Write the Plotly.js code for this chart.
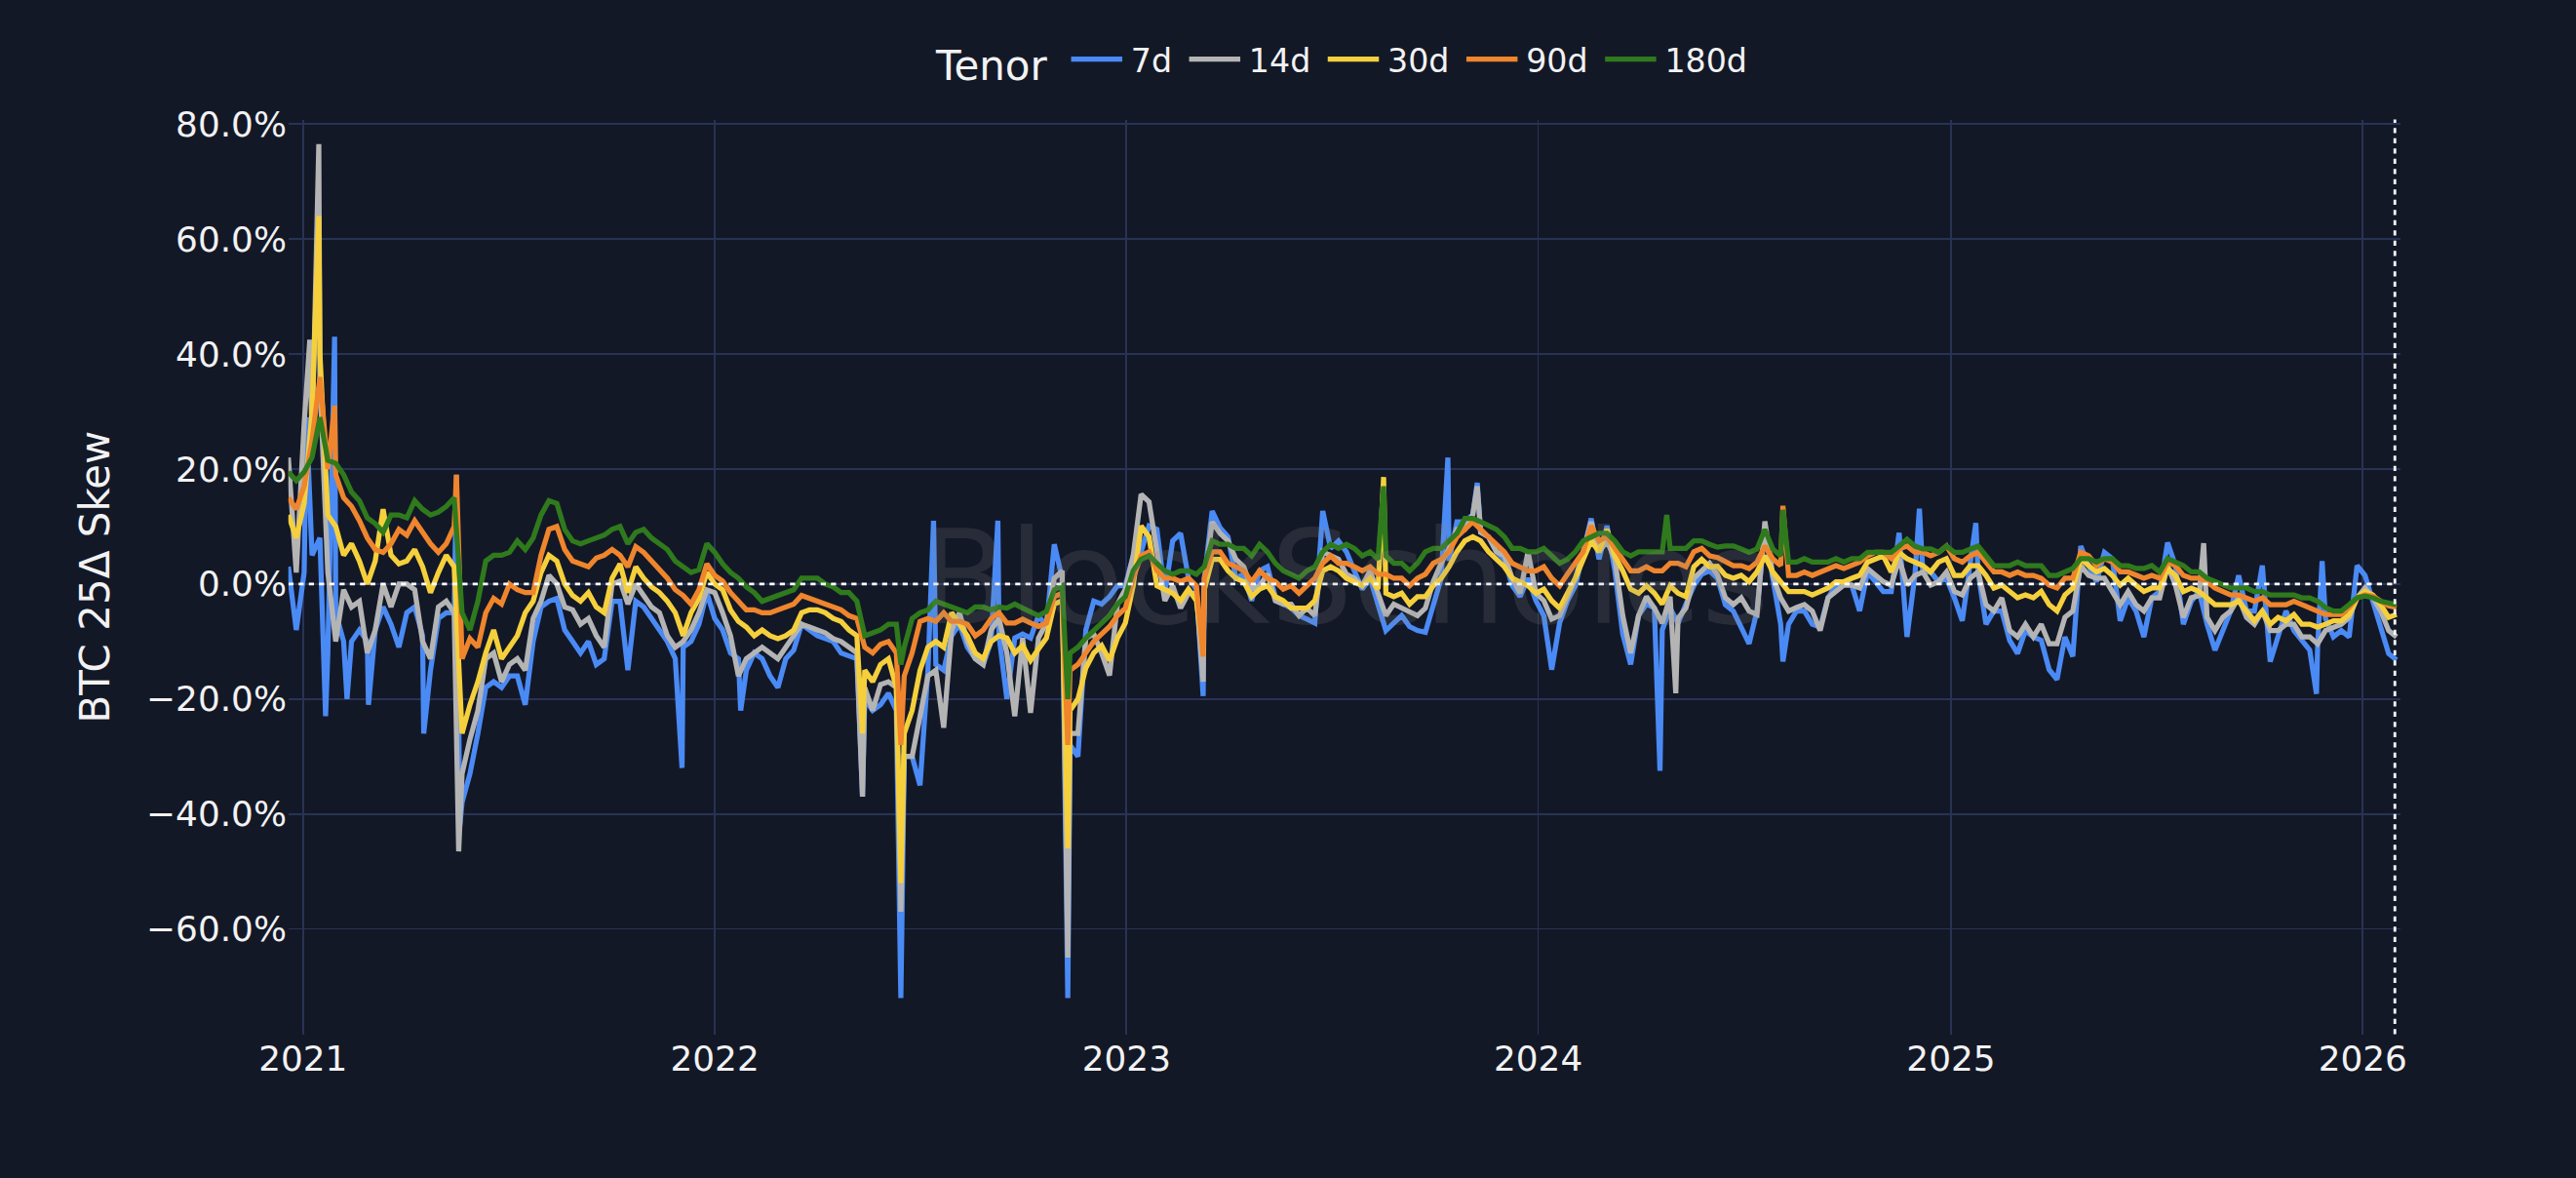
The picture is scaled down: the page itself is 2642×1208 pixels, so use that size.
<!DOCTYPE html>
<html>
<head>
<meta charset="utf-8">
<script src="https://cdn.plot.ly/plotly-3.0.1.min.js"></script>
<style>
html{margin:0;padding:0;background:#131827;overflow:hidden;}
body{margin:0;padding:0;background:#131827;width:2642px;height:1208px;}
#chart{width:1510px;height:690px;transform:scale(1.75);transform-origin:0 0;}
</style>
</head>
<body>
<div id="chart"></div>
<script>
// ---- sampling grid: one reading per week, starting 2020-12-19 ----
const weekStart = '2020-12-19';
const weekCount = 268;

const tenors = ['7d', '14d', '30d', '90d', '180d'];
const tenorColors = ['#4a8af4', '#b4b4b4', '#f5d03c', '#ef852c', '#2f7a1c'];

// weekly readings, BTC 25-delta skew in %
const skew7d = [
 3, -8, 2, 5, 8, -12, -5, -10, -10, -8,
 -10, -8, -4, -7, -11, -5, -4, -9, -15, -6,
 -5, -5, -38, -33, -26, -18, -17, -18, -16, -16,
 -21, -10, -4, -3, -2.5, -8, -10, -12, -10, -14,
 -13, -3, -3, -15, -3, -4, -6, -8, -10, -13,
 -11, -10, -7, -1.5, -6, -8, -12, -13, -15, -12,
 -13, -16, -18, -13, -11.5, -7, -8, -9, -9.5, -10,
 -12, -12.5, -13, -20, -22, -21, -19, -22, -30, -30,
 -35, -15, -14, -15, -9, -7, -11, -13, -14, -10,
 -9, -20, -9.4, -8.7, -9.4, -5.5, -7.4, 6.9, 1.0, -28,
 -30, -8, -3, -3.5, -2.2, -0.3, -0.3, 4.9, 5.6, 10.1,
 9.5, -1.6, 7.5, 8.8, 1.0, -0.9, 1.0, 12.7, 9.8, 8.2,
 1.0, 1.7, -2.9, 2.3, 3.0, -2.2, -3.5, -4.2, -5.5, -6.1,
 -6.8, 12.7, 6.2, 7.5, 5.6, 2.3, -0.9, 1.0, -3.5, -8.1,
 -6.8, -5.5, -7.4, -8.1, -8.4, -3.5, 1.0, 4.0, 10.8, 10.8,
 12.1, 9, 8.2, 5.6, 4.3, -0.3, -2.2, 1.0, -2.9, -5.5,
 -14.9, -6.8, -2.9, -0.3, 5.6, 11.4, 4.3, 10.1, 2.3, -8.7,
 -14, -5.5, -3.5, -4.2, -8, -4.2, -6.8, -3.5, -0.3, 1.7,
 2.3, 1.0, -3.6, -4.7, -7.5, -10.4, -4.7, 9.5, 1.0, -7.0,
 -7.0, -4.7, -4.7, -7.0, -7.5, -2.4, -0.2, 0.4, -0.2, -4.7,
 2.1, 0.4, -1.3, -1.3, 8.9, -9.2, 1.5, 2.0, 2.1, 0.4,
 1.0, -2.4, -6.4, 3.2, 2.0, -7.0, -4.7, -4.7, -9.8, -12.1,
 -8.1, -9.2, -9.8, -14.9, -16.6, -9.2, -12.6, 6.6, 3.2, 0.4,
 5.5, 4.4, -6.4, -2.4, -4.7, -9.2, -2.4, -1.3, 7.2, 3.2,
 -7.0, -3.0, -1.3, -7.0, -11.5, -8.1, -4.7, 1.5, -4.7, -4.7,
 3.2, -13.5, -9.2, -4.7, -8.1, -9.8, -11.5, -11.0, -6.0, -9.2,
 -8.1, -9.2, 3.2, 1.5, -3.0, -7.5, -12.1, -13.2
];
const skew14d = [
 22, 2, 28, 25, 35, 2, -10, -1, -4, -3,
 -12, -8, 0, -4, 0, 0, -1, -10, -13, -4,
 -3, -5, -33, -27, -22, -13, -12, -17, -14, -13,
 -15, -6, -3, 1.5, 0, -4, -4.5, -7, -6, -9,
 -11, 0, 0.5, -3.5, 0, -2, -4, -5, -9, -11,
 -10, -8, -5, -1, -1.5, -5, -9, -16, -13, -12,
 -11, -12, -13, -11, -9, -7, -7.5, -8, -8.5, -9.5,
 -10, -11, -12, -18, -22, -17.5, -17, -18, -30, -30,
 -23, -16, -15, -25, -8, -5, -10, -13, -14, -8,
 -6, -12, -23, -9.4, -22.4, -9.4, -6.8, 1.0, 2.3, -26,
 -26, -9.4, -8.7, -12, -15.9, -3.5, -0.9, 4.9, 15.6, 14.3,
 6.2, -2.9, -0.3, -4.2, -1.6, -1.6, 0, 10.8, 8.8, 7.5,
 4.3, 3.0, -0.9, -0.3, 1.7, -2.9, -3.5, -3.5, -5.5, -4.2,
 -5.5, 5.6, 4.9, 4.3, 1.7, 1.0, -0.3, 2.3, -1.6, -5.5,
 -3.5, -4.2, -4.8, -5.5, -4.2, 0.4, 3.6, 6.2, 9.5, 9.5,
 12, 9, 8.2, 5.6, 4.9, 1.0, -1.6, 5.6, -1.6, -2.9,
 -6.1, -5.5, -2.2, 1.0, 5.6, 10.8, 5.6, 7.5, 4.3, -5.5,
 -12, -5.5, -2.2, -4.2, -6.8, -2.2, -6, -4.2, 1.0, 2.3,
 3.6, 1.6, -2.4, -3.6, -2.4, -4.7, -5.3, 10.9, 1.5, -2.4,
 -4.7, -4.1, -3.6, -4.7, -8.1, -2.4, -1.3, -0.2, -0.2, -0.7,
 2.7, 1.5, 0.4, -0.2, 4.4, -0.2, 1.5, 2.1, -0.2, 0.4,
 2.1, -1.3, -1.9, 1.0, 2.1, -3.6, -4.7, -2.4, -8.1, -9.2,
 -7.0, -9.2, -7.0, -10.4, -10.4, -5.8, -4.7, 3.2, 1.5, 1.0,
 1.0, -1.3, -3.6, -1.3, -3.6, -4.7, -2.4, -2.4, 3.2, -0.2,
 -5.8, -2.4, -2.0, -5.8, -8.1, -5.8, -4.7, -2.4, -5.8, -7.0,
 -4.7, -8.1, -8.1, -7.0, -7.0, -9.2, -9.2, -10.4, -8.1, -7.5,
 -7.0, -5.8, -2.4, -0.7, -2.4, -4.7, -8.1, -9.2
];
const skew30d = [
 12, 8, 14, 30, 40, 12, 10, 5, 7, 4,
 0, 4, 13, 5, 3.5, 4, 6, 3, -1.5, 2,
 5, 3, -26, -21, -17, -12, -8, -13, -11, -9,
 -5, -3, 2, 5, 4, 0, -2, -3, -1.5, -4,
 -5, 1, 3.5, -1.5, 3, 1, -0.5, -1.5, -3, -5,
 -9, -5, -2.5, 2, 0, -1, -4.5, -6.5, -7.5, -9,
 -8, -9, -9.5, -9, -8, -5, -4.5, -4.5, -5, -6,
 -6.5, -8, -9, -15, -17, -14, -13, -18, -26, -22,
 -15, -11, -10, -11, -5, -7, -9, -12, -13, -10,
 -9, -9.4, -12, -10.7, -13.3, -11.3, -9.4, -3.5, -2.9, -22,
 -20, -14.6, -12, -10.7, -13.3, -9.4, -6.8, -0.3, 10.1, 8.2,
 -0.3, -0.9, -1.6, -2.9, -0.9, -2.9, -1.0, 4.3, 4.3, 2.3,
 1.0, 0.4, -2.2, -0.9, -0.3, -2.2, -2.9, -4.2, -4.2, -4.2,
 -2.9, 2.3, 3.0, 2.3, 1.0, 0.4, -0.3, 1.0, -0.9, -1.6,
 -2.2, -1.6, -3.5, -2.2, -2.2, -0.3, 1.0, 3.0, 5.6, 7.5,
 8.2, 7.5, 5.6, 4.3, 3.0, 1.0, 0.4, -0.3, -1.6, -0.9,
 -2.9, -4.2, -1.6, 1.0, 4.3, 7.5, 5.6, 9.5, 4.9, 2.3,
 -0.9, -1.6, -0.3, -1.6, -3.5, -0.3, -1.6, -2.2, 3.0, 4.3,
 3.0, 3.1, 1.5, 1.0, 1.5, 0.4, 2.1, 4.9, 2.1, 0.4,
 -1.3, -1.3, -1.3, -1.9, -1.3, -0.7, 0.4, 0.4, 1.0, 1.5,
 3.8, 4.4, 4.9, 2.1, 5.5, 4.4, 3.8, 3.2, 2.1, 3.8,
 4.4, 1.5, 1.5, 3.2, 3.2, 1.5, -0.7, -0.2, -1.3, -2.4,
 -1.9, -2.4, -1.3, -3.6, -4.7, -1.9, -0.7, 4.4, 3.2, 2.1,
 2.7, 1.5, -0.2, 1.0, -0.2, -1.3, -0.7, -0.7, 2.7, 1.5,
 -1.3, -0.7, -1.3, -2.4, -3.6, -3.6, -3.6, -3.0, -4.7, -6.4,
 -4.7, -7.0, -5.8, -6.4, -5.3, -7.0, -7.0, -7.5, -7.0, -6.4,
 -6.4, -5.3, -2.4, -1.3, -1.9, -3.6, -5.8, -5.3
];
const skew90d = [
 15, 13, 17, 25, 36, 20, 19, 15, 13.5, 11,
 8, 6, 5.5, 7, 9.5, 8.5, 11, 9, 7, 5.5,
 7, 10, -13, -9.5, -11, -5, -2.5, -3.5, 0, -1,
 -1.5, -1.5, 5, 9.5, 10, 6, 4, 3.5, 3, 4.5,
 5, 6, 5, 3, 6.5, 5.5, 4, 2.5, 1, -1,
 -2, -3.5, -1, 3.5, 1.5, 0.5, -1.5, -3, -4.5, -4.5,
 -5, -5, -4.5, -4, -3.5, -2, -2.5, -3, -3.5, -4,
 -4.5, -5.5, -6, -11, -12, -10.5, -10, -12, -16, -12,
 -6.5, -6, -6.5, -5, -6.5, -6.5, -7, -9, -8, -6,
 -5, -6.8, -6.8, -6.1, -6.8, -7.4, -6.8, -2.2, -1.6, -15,
 -14, -12, -10, -8.7, -7.4, -5.5, -4.2, 1.0, 4.9, 5.6,
 2.3, 1.0, 1.0, 0.4, 1.0, -0.3, 1.0, 5.6, 5.6, 3.6,
 3.0, 2.3, 0.4, 2.3, 1.0, 0.4, -0.9, -0.3, -1.6, -0.3,
 1.0, 3.6, 4.9, 3.6, 3.6, 3.0, 2.3, 3.0, 1.7, 1.7,
 1.0, 1.0, -0.3, 1.0, 1.7, 3.6, 4.3, 5.6, 8.2, 9.5,
 10.8, 9.5, 8.2, 6.9, 5.6, 3.6, 3.0, 2.3, 2.3, 3.0,
 1.0, -0.3, 1.7, 3.6, 5.6, 10.1, 7.5, 8.2, 6.2, 4.3,
 2.3, 2.3, 3.0, 2.3, 2.3, 3.6, 3.6, 3.0, 5.6, 6.2,
 4.9, 4.6, 3.8, 3.2, 3.2, 2.7, 3.8, 6.6, 4.4, 3.2,
 1.5, 1.5, 2.1, 1.5, 2.1, 2.7, 3.2, 2.7, 3.2, 3.8,
 4.9, 5.5, 5.5, 4.4, 6.1, 6.6, 5.5, 5.5, 4.9, 5.5,
 6.6, 4.4, 3.8, 4.9, 5.5, 3.8, 2.1, 2.1, 1.5, 2.1,
 1.5, 1.5, 1.0, -0.2, -0.7, 1.0, 1.0, 5.5, 4.9, 3.2,
 4.4, 3.8, 2.1, 2.1, 1.5, 1.0, 1.5, 1.0, 3.8, 3.2,
 1.5, 1.0, 1.0, 0.4, -0.7, -1.3, -1.9, -1.9, -2.4, -3.0,
 -2.4, -3.6, -3.6, -3.6, -3.0, -3.6, -4.1, -4.7, -5.3, -5.3,
 -5.3, -4.1, -2.4, -1.9, -2.1, -3.0, -3.8, -4.1
];
const skew180d = [
 19.5, 18, 19.5, 22, 29, 21.5, 21, 19, 16, 14.5,
 11.5, 10.5, 9, 12, 12, 11.5, 14.5, 13, 12, 12.5,
 13.5, 15, -5, -8, -3, 4, 5, 5, 5.5, 7.5,
 6, 8, 12, 14.5, 14, 9.5, 7.5, 7, 7.5, 8,
 8.5, 9.5, 10, 7, 9, 9.5, 8, 7, 6, 4,
 3, 2, 2.5, 7, 5.5, 3.5, 2, 1, -0.5, -1.5,
 -3, -2.5, -2, -1.5, -1, 1, 1, 1, 0, -0.5,
 -1.5, -1.5, -3, -9, -8.5, -8, -7, -7, -11, -6,
 -5, -4.5, -3, -3.5, -4, -4.5, -5, -4, -4, -4.5,
 -4, -4.2, -3.5, -4.2, -4.8, -5.5, -4.8, -1.0, -0.3, -12,
 -11, -9.4, -8.1, -6.8, -5.5, -3.5, -2.2, 2.3, 4.3, 4.9,
 3.6, 2.3, 1.7, 2.3, 2.3, 1.7, 3.0, 7.5, 6.9, 6.9,
 6.2, 6.2, 4.9, 6.9, 5.6, 3.6, 2.3, 1.7, 1.0, 2.3,
 3.0, 5.6, 6.9, 6.2, 6.9, 6.2, 4.9, 5.6, 4.3, 4.9,
 3.6, 3.6, 2.3, 3.6, 5.6, 6.2, 6.2, 7.5, 8.8, 11.4,
 11.4, 10.8, 10.1, 9.5, 8.2, 6.2, 6.2, 5.6, 5.6, 6.2,
 4.9, 3.6, 4.3, 5.6, 7.5, 8.2, 8.8, 8.8, 7.5, 5.6,
 4.9, 5.6, 5.6, 5.6, 5.6, 6.2, 6.2, 6.2, 7.5, 7.5,
 6.9, 6.4, 6.6, 6.6, 6.1, 5.5, 6.1, 9.5, 6.1, 4.9,
 3.8, 3.8, 4.4, 3.8, 3.8, 3.8, 4.4, 3.8, 4.4, 4.4,
 5.5, 5.5, 5.5, 5.5, 6.6, 7.8, 6.6, 6.1, 6.1, 5.5,
 6.6, 5.5, 5.5, 6.1, 6.6, 4.9, 3.2, 3.2, 3.2, 3.8,
 3.2, 3.2, 3.2, 1.5, 1.5, 2.1, 2.7, 4.4, 4.4, 3.8,
 4.4, 4.4, 3.2, 3.2, 2.7, 2.7, 3.2, 2.1, 4.4, 3.8,
 3.2, 2.1, 2.1, 1.0, 0.4, -0.2, -0.7, -0.7, -0.7, -1.3,
 -1.3, -1.9, -1.9, -1.9, -1.9, -2.4, -2.4, -3.0, -4.1, -4.7,
 -4.7, -3.6, -2.4, -2.1, -2.4, -3.0, -3.3, -3.6
];

// short-lived spikes read between the weekly readings
const spike7dDates = ['2021-01-04','2021-01-21','2021-01-29','2021-02-09','2021-02-28','2021-04-18','2021-05-17','2021-05-20','2021-12-03','2022-01-24','2022-05-12','2022-06-15','2022-07-14','2022-09-09','2022-11-10','2023-03-10','2023-10-13','2023-11-08','2024-04-18','2024-08-05','2024-12-04','2025-01-23','2025-11-21','2025-11-26'];
const spike7dValues = [29, -23, 43, -20, -21, -26, 19, -42, -32, -22, -37, -72, 11, 11, -72, -19.5, 22, 17.6, -32.5, -13.5, 13.1, 10.6, -19.1, 4];
const spike14dDates = ['2021-01-07','2021-01-15','2021-05-19','2022-05-12','2022-06-15','2022-11-10','2023-03-10','2023-11-08','2024-05-02','2025-08-13'];
const spike14dValues = [42.5, 76.5, -46.5, -37, -57, -65, -17, 17, -19, 7.1];
const spike30dDates = ['2021-01-15','2022-05-12','2022-06-15','2022-11-10','2023-03-10','2023-08-17'];
const spike30dValues = [64, -26, -52, -46, -12, 18.6];
const spike90dDates = ['2021-01-29','2021-05-17','2022-06-15','2022-11-10','2023-03-10','2024-08-05'];
const spike90dValues = [31, 19, -28, -28, -12.6, 13.6];
const spike180dDates = ['2022-06-15','2022-11-10','2023-08-17','2024-04-24','2024-08-05'];
const spike180dValues = [-14, -20, 17, 12, 12.9];

const markerDate = '2026-01-29 12:00';
const xRange = ['2020-12-19', '2026-02-03 17:00'];
const yRange = [-78.3, 80.8];

// ---- build ----
const weeklyDates = [];
{
  const t0 = Date.UTC(2020, 11, 19);
  for (let k = 0; k < weekCount; k++) {
    weeklyDates.push(new Date(t0 + k * 7 * 86400000).toISOString().slice(0, 10));
  }
}
function merge(vals, sDates, sVals) {
  const pts = vals.map((v, i) => [weeklyDates[i], v]);
  sDates.forEach((d, i) => pts.push([d, sVals[i]]));
  pts.sort((a, b) => (a[0] < b[0] ? -1 : a[0] > b[0] ? 1 : 0));
  return { x: pts.map(p => p[0]), y: pts.map(p => p[1]) };
}
const seriesWeekly = [skew7d, skew14d, skew30d, skew90d, skew180d];
const seriesSpikeDates = [spike7dDates, spike14dDates, spike30dDates, spike90dDates, spike180dDates];
const seriesSpikeVals = [spike7dValues, spike14dValues, spike30dValues, spike90dValues, spike180dValues];

const traces = tenors.map((name, i) => {
  const m = merge(seriesWeekly[i], seriesSpikeDates[i], seriesSpikeVals[i]);
  return {
    type: 'scatter', mode: 'lines', name: name,
    x: m.x, y: m.y,
    line: { color: tenorColors[i], width: 3 }
  };
});

const bg = '#131827';
const grid = '#283354';
const layout = {
  width: 1510, height: 690,
  paper_bgcolor: bg, plot_bgcolor: bg,
  font: { family: 'DejaVu Sans, Verdana, sans-serif', color: '#f2f2f2', size: 20 },
  margin: { l: 169, r: 103, t: 70, b: 84, autoexpand: false },
  showlegend: true,
  legend: {
    orientation: 'h', x: 0.5, xanchor: 'center', y: 1.062, yanchor: 'middle',
    title: { text: 'Tenor', font: { size: 24 } },
    font: { size: 19 }, bgcolor: 'rgba(0,0,0,0)'
  },
  xaxis: {
    type: 'date', range: xRange, dtick: 'M12', tick0: '2021-01-01', tickformat: '%Y',
    showgrid: true, gridcolor: grid, gridwidth: 1, zeroline: false, showline: false, ticks: '',
    tickfont: { size: 20.5 }
  },
  yaxis: {
    range: yRange, dtick: 20, tick0: 0, tickformat: '.1f', ticksuffix: '%',
    showgrid: true, gridcolor: grid, gridwidth: 1, zeroline: false, showline: false, ticks: '',
    tickfont: { size: 20.5 },
    title: { text: 'BTC 25Δ Skew', font: { size: 24 }, standoff: 14 }
  },
  shapes: [
    { type: 'line', xref: 'x', yref: 'y', x0: xRange[0], x1: markerDate, y0: 0, y1: 0,
      line: { color: '#ffffff', width: 1.6, dash: 'dot' } },
    { type: 'line', xref: 'x', yref: 'paper', x0: markerDate, x1: markerDate, y0: 0, y1: 1,
      line: { color: '#ffffff', width: 1.6, dash: 'dot' } }
  ],
  annotations: [
    { text: 'BlockScholes', xref: 'paper', yref: 'paper', x: 0.5, y: 0.5,
      xanchor: 'center', yanchor: 'middle', showarrow: false,
      font: { size: 76, color: 'rgba(140,140,140,0.18)', family: 'DejaVu Sans, sans-serif' } }
  ]
};

Plotly.newPlot('chart', traces, layout, { displayModeBar: false, staticPlot: true });
</script>
</body>
</html>
